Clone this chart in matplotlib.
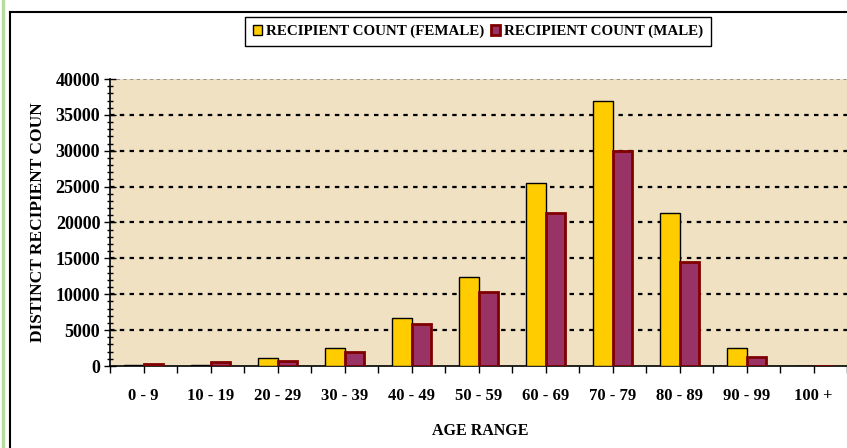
import matplotlib.pyplot as plt
import numpy as np
from matplotlib.lines import Line2D
from matplotlib.ticker import MultipleLocator

# age ranges and recipient counts
age_ranges = ['0 - 9', '10 - 19', '20 - 29', '30 - 39', '40 - 49', '50 - 59',
              '60 - 69', '70 - 79', '80 - 89', '90 - 99', '100 +']
female = [150, 150, 1100, 2450, 6700, 12400, 25500, 37000, 21300, 2500, 0]
male = [300, 550, 650, 1950, 5800, 10300, 21300, 29900, 14500, 1300, 0]

W, H = 847, 448
plt.rcParams['font.family'] = ['Liberation Serif', 'DejaVu Serif']
plt.rcParams['font.weight'] = 'bold'

fig = plt.figure(figsize=(W / 100, H / 100), dpi=100)
ax = fig.add_axes([110 / W, 1 - 366 / H, 1 - 110 / W, (366 - 79) / H])
ax.set_facecolor('#EFE1C2')

x = np.arange(len(age_ranges))
bw = 0.29
ax.bar(x - bw / 2, female, bw, color='#FFCC00', edgecolor='black',
       linewidth=1, label='RECIPIENT COUNT (FEMALE)', zorder=3)
ax.bar(x + bw / 2, male, bw, color='#993366', edgecolor='#800000',
       linewidth=2, label='RECIPIENT COUNT (MALE)', zorder=3)

ax.set_xlim(-0.5, len(age_ranges) - 0.5)
ax.set_ylim(0, 40000)

# dotted grid lines, top one lighter like the plot border
for yv in range(5000, 40000, 5000):
    ax.axhline(yv, color='black', linestyle=(0, (2, 2.4)), linewidth=1.6, zorder=1)
ax.axhline(40000, color='#888888', linestyle=(0, (2, 2)), linewidth=1.2, zorder=1)

ax.set_xticks(x)
ax.set_xticklabels(age_ranges, fontsize=12, fontweight='bold')
ax.set_xticks(np.arange(-0.5, len(age_ranges), 1), minor=True)
ax.tick_params(axis='x', which='both', direction='out', length=5, width=1,
               pad=11, color='black')
ax.yaxis.set_major_locator(MultipleLocator(5000))
ax.yaxis.set_minor_locator(MultipleLocator(1000))
ax.tick_params(axis='y', which='major', direction='inout', length=8, width=1,
               labelsize=13, pad=3)
ax.tick_params(axis='y', which='minor', direction='inout', length=5, width=1)
for lab in ax.get_yticklabels():
    lab.set_fontweight('bold')

for side in ['top', 'right']:
    ax.spines[side].set_visible(False)
ax.spines['left'].set_linewidth(1.2)
ax.spines['bottom'].set_linewidth(1.2)

ax.set_ylabel('DISTINCT RECIPIENT COUN', fontsize=12.5, fontweight='bold')
ax.yaxis.set_label_coords(-(110 - 46) / (W - 110), 0.5)
ax.set_xlabel('AGE RANGE', fontsize=11.5, fontweight='bold')
ax.xaxis.set_label_coords((480 - 110) / (W - 110), -0.20)

leg = fig.legend(loc='center', bbox_to_anchor=(478 / W, 1 - 31.5 / H), ncol=2,
                 frameon=True, fancybox=False, edgecolor='black', framealpha=1,
                 handlelength=0.6, handleheight=0.6, handletextpad=0.3,
                 columnspacing=0.4, borderpad=0.55, borderaxespad=0,
                 prop={'weight': 'bold', 'size': 10.8})
leg.get_frame().set_linewidth(1)

# outer chart frame and green edge
fig.add_artist(Line2D([2.5 / W, 2.5 / W], [0, 1], color='#B5DDA0', linewidth=2.5))
fig.add_artist(Line2D([9.5 / W, 9.5 / W], [0, 1 - 12 / H], color='black', linewidth=1.5))
fig.add_artist(Line2D([9.5 / W, 1], [1 - 12 / H, 1 - 12 / H], color='black', linewidth=1.5))

fig.savefig('out.png', dpi=100)
